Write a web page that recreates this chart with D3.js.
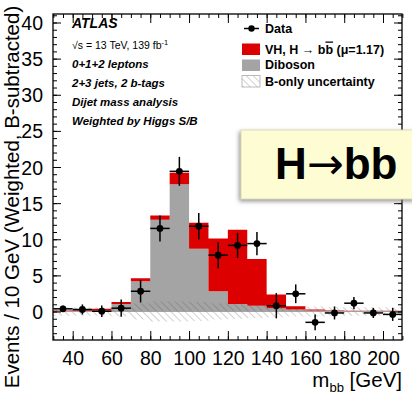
<!DOCTYPE html>
<html>
<head>
<meta charset="utf-8">
<script src="https://cdn.jsdelivr.net/npm/d3@7"></script>
<style>
  body { margin: 0; background: #fff; }
  svg { display: block; font-family: "Liberation Sans", Arial, sans-serif; }
</style>
</head>
<body>
<svg width="412" height="397"></svg>
<script>
// mbb bins, 10 GeV wide
var binLow   = [30, 40, 50, 60, 70, 80, 90, 100, 110, 120, 130, 140, 150, 160, 170, 180, 190, 200];
var binWidth = 10;

// weighted, background-subtracted yields
var diboson  = [0.05, 0.1, 0.15, 1.05, 4.2, 12.7, 17.6, 8.7, 2.8, 1.05, 0.8, 0.45, 0.28, 0.15, 0.08, 0.05, 0.05, 0.05];
var vhSignal = [0.1, 0.1, 0.22, 0.25, 0.4, 0.6, 1.6, 3.6, 7.3, 10.25, 6.45, 1.92, 0.46, 0.13, 0.07, 0.05, 0.05, 0.05];
var bkgUnc   = [0.6, 0.6, 0.6, 0.7, 1.1, 1.4, 1.4, 1.3, 1.1, 1.0, 0.9, 0.8, 0.7, 0.7, 0.6, 0.6, 0.6, 0.6];
var dataVal  = [0.37, 0.28, 0.04, 0.46, 2.8, 11.5, 19.4, 11.8, 7.8, 9.15, 9.4, 0.8, 2.45, -1.5, -0.2, 1.15, -0.2, -0.4];
var dataErr  = [0.45, 0.7, 0.8, 1.2, 1.55, 1.8, 2.0, 1.85, 1.8, 1.75, 1.6, 1.75, 1.3, 1.1, 0.9, 0.85, 0.7, 0.9];

var yTicks = [0, 5, 10, 15, 20, 25, 30, 35, 40];
var xTicks = [40, 60, 80, 100, 120, 140, 160, 180, 200];

var svg = d3.select("svg");
var frame = {left: 53, right: 402, top: 14, bottom: 340};

var x = d3.scaleLinear().domain([30, 210]).range([53.3, 402.4]);
var y = d3.scaleLinear().domain([0, 40]).range([311.5, 22.5]);
var yLo = y.invert(frame.bottom), yHi = y.invert(frame.top);

// hatch for the background uncertainty
var defs = svg.append("defs");
defs.append("pattern")
    .attr("id", "hatch")
    .attr("patternUnits", "userSpaceOnUse")
    .attr("width", 5).attr("height", 5)
    .attr("patternTransform", "rotate(-45)")
  .append("line")
    .attr("x1", 0).attr("y1", 0).attr("x2", 0).attr("y2", 5)
    .attr("stroke", "#444").attr("stroke-opacity", 0.45).attr("stroke-width", 1.1);

var shadow = defs.append("filter").attr("id", "shadow")
    .attr("x", "-10%").attr("y", "-20%").attr("width", "130%").attr("height", "150%");
shadow.append("feDropShadow")
    .attr("dx", -1.5).attr("dy", 2).attr("stdDeviation", 2)
    .attr("flood-color", "#777").attr("flood-opacity", 0.8);

defs.append("clipPath").attr("id", "clip")
  .append("rect")
    .attr("x", frame.left).attr("y", frame.top)
    .attr("width", frame.right - frame.left).attr("height", frame.bottom - frame.top);

// step histograms: one point per low edge plus the closing edge
function steps(lo, hi) {
    var pts = binLow.map(function(b, i) { return {x: b, lo: lo(i), hi: hi(i)}; });
    var last = binLow.length - 1;
    pts.push({x: binLow[last] + binWidth, lo: lo(last), hi: hi(last)});
    return pts;
}

var area = d3.area()
    .curve(d3.curveStepAfter)
    .x(function(d) { return x(d.x); })
    .y0(function(d) { return y(d.lo); })
    .y1(function(d) { return y(d.hi); });

var plot = svg.append("g").attr("clip-path", "url(#clip)");

plot.append("path")
    .datum(steps(function(i) { return 0; }, function(i) { return diboson[i]; }))
    .attr("fill", "#a4a4a4")
    .attr("d", area);

plot.append("path")
    .datum(steps(function(i) { return diboson[i]; }, function(i) { return diboson[i] + vhSignal[i]; }))
    .attr("fill", "#dc0000")
    .attr("d", area);

plot.append("path")
    .datum(steps(function(i) { return -bkgUnc[i]; }, function(i) { return bkgUnc[i]; }))
    .attr("fill", "url(#hatch)")
    .attr("d", area);

plot.append("line")
    .attr("x1", frame.left).attr("x2", frame.right)
    .attr("y1", y(0)).attr("y2", y(0))
    .attr("stroke", "#999").attr("stroke-width", 0.8);

// data points with stat errors
var pts = plot.selectAll(".pt")
    .data(binLow.map(function(b, i) { return {c: b + binWidth / 2, v: dataVal[i], e: dataErr[i]}; }))
  .enter().append("g")
    .attr("class", "pt");

pts.append("line")
    .attr("x1", function(d) { return x(d.c - binWidth / 2); })
    .attr("x2", function(d) { return x(d.c + binWidth / 2); })
    .attr("y1", function(d) { return y(d.v); })
    .attr("y2", function(d) { return y(d.v); })
    .attr("stroke", "#000").attr("stroke-width", 1.5);

pts.append("line")
    .attr("x1", function(d) { return x(d.c); })
    .attr("x2", function(d) { return x(d.c); })
    .attr("y1", function(d) { return y(d.v - d.e); })
    .attr("y2", function(d) { return y(d.v + d.e); })
    .attr("stroke", "#000").attr("stroke-width", 1.5);

pts.append("circle")
    .attr("cx", function(d) { return x(d.c); })
    .attr("cy", function(d) { return y(d.v); })
    .attr("r", 3.4)
    .attr("fill", "#000");

// frame + ROOT style inward ticks on all four sides
svg.append("rect")
    .attr("x", frame.left).attr("y", frame.top)
    .attr("width", frame.right - frame.left).attr("height", frame.bottom - frame.top)
    .attr("fill", "none").attr("stroke", "#000").attr("stroke-width", 1.3);

var yMinor = d3.range(Math.ceil(yLo), Math.floor(yHi) + 1);
var xMinor = d3.range(30, 211, 5);

function axisLines(g) {
    g.select(".domain").remove();
    g.selectAll(".tick line").attr("stroke", "#000").attr("stroke-width", 1);
}

svg.append("g")
    .attr("transform", "translate(" + frame.left + ",0)")
    .call(d3.axisRight(y).tickValues(yMinor).tickSize(4).tickFormat(""))
    .call(axisLines);
svg.append("g")
    .attr("transform", "translate(" + frame.right + ",0)")
    .call(d3.axisLeft(y).tickValues(yMinor).tickSize(4).tickFormat(""))
    .call(axisLines);

var yAxis = svg.append("g")
    .attr("transform", "translate(" + frame.left + ",0)")
    .call(d3.axisLeft(y).tickValues(yTicks).tickSizeInner(-8).tickSizeOuter(0).tickPadding(10))
    .call(axisLines);
svg.append("g")
    .attr("transform", "translate(" + frame.right + ",0)")
    .call(d3.axisRight(y).tickValues(yTicks).tickSizeInner(-8).tickFormat(""))
    .call(axisLines);

svg.append("g")
    .attr("transform", "translate(0," + frame.bottom + ")")
    .call(d3.axisTop(x).tickValues(xMinor).tickSize(4).tickFormat(""))
    .call(axisLines);
svg.append("g")
    .attr("transform", "translate(0," + frame.top + ")")
    .call(d3.axisBottom(x).tickValues(xMinor).tickSize(4).tickFormat(""))
    .call(axisLines);

var xAxis = svg.append("g")
    .attr("transform", "translate(0," + frame.bottom + ")")
    .call(d3.axisBottom(x).tickValues(xTicks).tickSizeInner(-9).tickSizeOuter(0).tickPadding(11))
    .call(axisLines);
svg.append("g")
    .attr("transform", "translate(0," + frame.top + ")")
    .call(d3.axisTop(x).tickValues(xTicks).tickSizeInner(-9).tickFormat(""))
    .call(axisLines);

svg.selectAll("g.tick text")
    .attr("font-family", "Liberation Sans, Arial, sans-serif")
    .attr("font-size", 19.5)
    .attr("fill", "#000");
yAxis.selectAll("text").attr("dy", "0.36em");
xAxis.selectAll("text").attr("dy", "0.72em");

// axis titles
var yTitleMid = 197;
svg.append("text")
    .attr("transform", "translate(19," + yTitleMid + ") rotate(-90)")
    .attr("text-anchor", "middle")
    .attr("font-size", 20.5)
    .text("Events / 10 GeV (Weighted, B-subtracted)");

var xt = svg.append("text")
    .attr("x", frame.right).attr("y", 387)
    .attr("text-anchor", "end")
    .attr("font-size", 20.5);
xt.append("tspan").text("m");
xt.append("tspan").attr("font-size", 13).attr("dy", 5).text("bb");
xt.append("tspan").attr("dy", -5).text(" [GeV]");

// labels top left
svg.append("text")
    .attr("x", 72).attr("y", 27.5)
    .attr("font-size", 14).attr("font-weight", "bold").attr("font-style", "italic")
    .text("ATLAS");

var lumi = svg.append("text")
    .attr("x", 72).attr("y", 49)
    .attr("font-size", 10.5);
lumi.append("tspan").text("\u221As = 13 TeV, 139 fb");
lumi.append("tspan").attr("font-size", 7.5).attr("dy", -4).text("-1");

var lines = ["0+1+2 leptons", "2+3 jets, 2 b-tags", "Dijet mass analysis", "Weighted by Higgs S/B"];
svg.selectAll(".info")
    .data(lines)
  .enter().append("text")
    .attr("class", "info")
    .attr("x", 72)
    .attr("y", function(d, i) { return 67.5 + i * 19; })
    .attr("font-size", 11.5).attr("font-weight", "bold").attr("font-style", "italic")
    .text(function(d) { return d; });

// legend
var leg = svg.append("g").attr("font-size", 12.5).attr("font-weight", "bold");
leg.append("line")
    .attr("x1", 244).attr("x2", 259).attr("y1", 28.5).attr("y2", 28.5)
    .attr("stroke", "#000").attr("stroke-width", 1.5);
leg.append("circle").attr("cx", 251.5).attr("cy", 28.5).attr("r", 3.2);
leg.append("text").attr("x", 265).attr("y", 33).text("Data");

leg.append("rect").attr("x", 242).attr("y", 43.5).attr("width", 18).attr("height", 11.5).attr("fill", "#dc0000");
var vhLabel = leg.append("text").attr("x", 265).attr("y", 53.5);
vhLabel.append("tspan").text("VH, H \u2192 b");
vhLabel.append("tspan").attr("text-decoration", "overline").text("b");
vhLabel.append("tspan").text(" (\u03BC=1.17)");

leg.append("rect").attr("x", 242).attr("y", 59.5).attr("width", 18).attr("height", 11.5).attr("fill", "#a4a4a4");
leg.append("text").attr("x", 265).attr("y", 69).text("Diboson");

leg.append("rect").attr("x", 242).attr("y", 75.5).attr("width", 18).attr("height", 11.5)
    .attr("fill", "url(#hatch)").attr("stroke", "#aaa").attr("stroke-width", 0.8);
leg.append("text").attr("x", 265).attr("y", 85.5).text("B-only uncertainty");

// H->bb callout
var callout = svg.append("g");
callout.append("rect")
    .attr("x", 241).attr("y", 130).attr("width", 190).attr("height", 69)
    .attr("fill", "#fefcd3").attr("stroke", "#d9d7b4").attr("stroke-width", 0.8)
    .attr("filter", "url(#shadow)");
var hbb = callout.append("text")
    .attr("x", 275).attr("y", 179)
    .attr("font-size", 44).attr("font-weight", "bold");
hbb.append("tspan").text("H");
hbb.append("tspan").attr("font-family", "DejaVu Sans").attr("font-weight", "normal").text("\u2192");
hbb.append("tspan").text("bb");
</script>
</body>
</html>
